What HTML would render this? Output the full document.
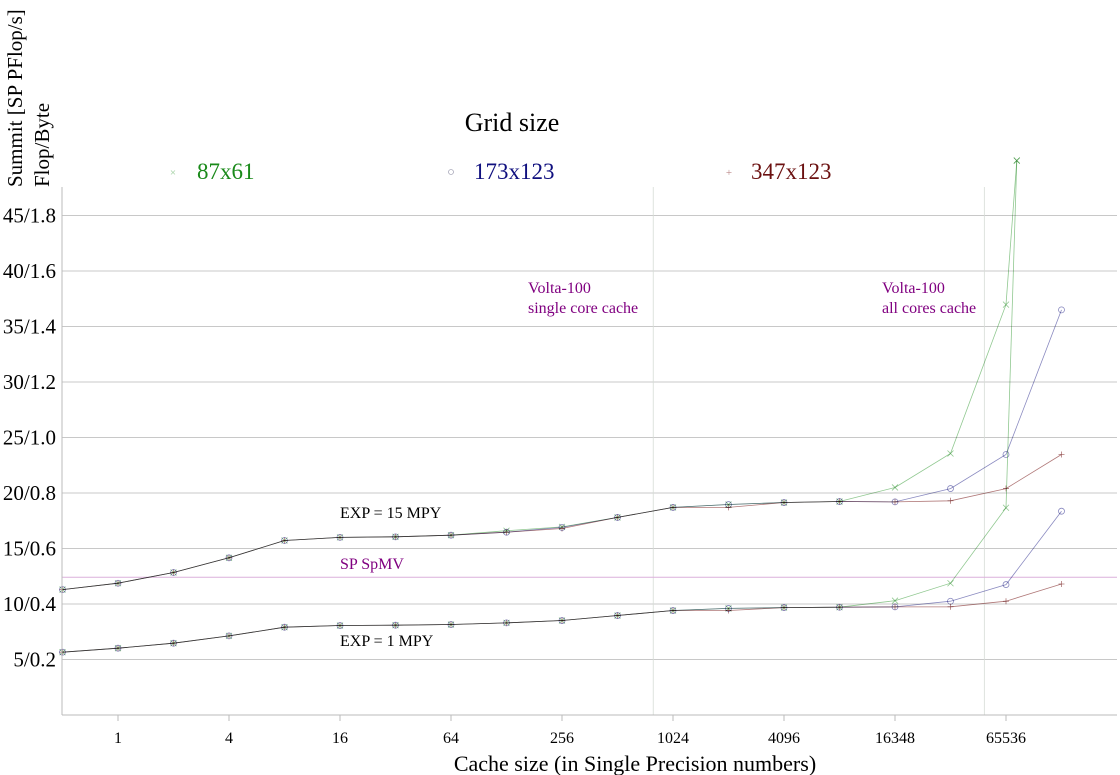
<!DOCTYPE html>
<html><head><meta charset="utf-8">
<style>
html,body{margin:0;padding:0;background:#fff;}
svg{display:block;font-family:"Liberation Serif","DejaVu Serif",serif;}
#series polyline, #series path, #series circle{mix-blend-mode:multiply;}
</style></head>
<body>
<svg id="chart" width="1120" height="775" viewBox="0 0 1120 775" xmlns="http://www.w3.org/2000/svg">
  <g id="grid"></g>
  <g id="refs"></g>
  <g id="series"></g>
  <g id="axes"></g>
  <text transform="translate(22,187) rotate(-90)" font-size="21" fill="#000">Summit [SP PFlop/s]</text>
  <text transform="translate(49,187) rotate(-90)" font-size="21" fill="#000">Flop/Byte</text>
  <text x="635" y="771" text-anchor="middle" font-size="22" fill="#000">Cache size (in Single Precision numbers)</text>
  <g>
    <text x="512" y="131" text-anchor="middle" font-size="26" fill="#000">Grid size</text>
    <g>
      <text x="173" y="176" text-anchor="middle" font-size="11" fill="#9c9">×</text>
      <text x="197" y="179" font-size="23" fill="#1a8a1a">87x61</text>
    </g>
    <g>
      <circle cx="451" cy="172" r="2.5" fill="none" stroke="#aab" stroke-width="0.8"/>
      <text x="474" y="179" font-size="23" fill="#10107f">173x123</text>
    </g>
    <g>
      <text x="729" y="176" text-anchor="middle" font-size="11" fill="#b88">+</text>
      <text x="751" y="179" font-size="23" fill="#6b1010">347x123</text>
    </g>
  </g>
</svg>
<script>
const xTickValues = [1, 4, 16, 64, 256, 1024, 4096, 16384, 65536];
const xTickLabels = ["1", "4", "16", "64", "256", "1024", "4096", "16348", "65536"];
const yTickValues = [5, 10, 15, 20, 25, 30, 35, 40, 45];
const yTickLabels = ["5/0.2", "10/0.4", "15/0.6", "20/0.8", "25/1.0", "30/1.2", "35/1.4", "40/1.6", "45/1.8"];
const cacheSizesGreen = [0.5,1,2,4,8,16,32,64,128,256,512,1024,2048,4096,8192,16384,32768,65536,75000];
const cacheSizesLong = [0.5,1,2,4,8,16,32,64,128,256,512,1024,2048,4096,8192,16384,32768,65536,131072];
const exp15_87x61  = [11.3,11.87,12.84,14.16,15.72,16.0,16.05,16.2,16.6,16.95,17.8,18.7,18.96,19.14,19.23,20.5,23.56,36.97,49.95];
const exp15_173x123= [11.3,11.87,12.84,14.16,15.72,16.0,16.05,16.2,16.47,16.9,17.8,18.7,18.96,19.14,19.23,19.2,20.4,23.47,36.5];
const exp15_347x123= [11.3,11.87,12.84,14.16,15.72,16.0,16.05,16.2,16.47,16.8,17.8,18.7,18.7,19.14,19.23,19.2,19.3,20.4,23.47];
const exp1_87x61   = [5.66,6.02,6.47,7.13,7.91,8.06,8.09,8.15,8.3,8.51,8.96,9.41,9.6,9.68,9.71,10.3,11.87,18.67,49.95];
const exp1_173x123 = [5.66,6.02,6.47,7.13,7.91,8.06,8.09,8.15,8.3,8.51,8.96,9.41,9.6,9.68,9.71,9.74,10.25,11.75,18.36];
const exp1_347x123 = [5.66,6.02,6.47,7.13,7.91,8.06,8.09,8.15,8.3,8.51,8.96,9.41,9.41,9.68,9.71,9.74,9.75,10.25,11.8];
const spmvValue = 12.41;
const cacheLineValues = [800, 50000];

const NS = "http://www.w3.org/2000/svg";
const plotL = 62, plotR = 1117, plotT = 187, plotB = 715;
function xScale(v){ return 118 + Math.log2(v) * 55.5; }
function yScale(v){ return plotB - v * 11.1; }
function mk(tag, attrs, parent){
  const e = document.createElementNS(NS, tag);
  for (const k in attrs) e.setAttribute(k, attrs[k]);
  parent.appendChild(e); return e;
}
const grid = document.getElementById('grid');
const axes = document.getElementById('axes');
const refs = document.getElementById('refs');
const series = document.getElementById('series');

yTickValues.forEach((v, i) => {
  const l = mk('line', {x1: plotL, x2: plotR, y1: yScale(v), y2: yScale(v), stroke: '#c8c8c8', 'stroke-width': 1}, grid);
  
  
  const t = mk('text', {x: 56, y: yScale(v) + 7, 'text-anchor': 'end', 'font-size': 21, fill: '#000'}, axes);
  t.textContent = yTickLabels[i];
  
  
});
xTickValues.forEach((v, i) => {
  const tk = mk('line', {x1: xScale(v), x2: xScale(v), y1: plotB, y2: plotB + 6, stroke: '#bbb', 'stroke-width': 1}, axes);
  
  
  const t = mk('text', {x: xScale(v), y: plotB + 28, 'text-anchor': 'middle', 'font-size': 16, fill: '#000'}, axes);
  t.textContent = xTickLabels[i];
  
  
});
const ax1 = mk('line', {x1: plotL, x2: plotL, y1: plotT, y2: plotB, stroke: '#bbb', 'stroke-width': 1}, axes);


const ax2 = mk('line', {x1: plotL, x2: plotR, y1: plotB, y2: plotB, stroke: '#bbb', 'stroke-width': 1}, axes);



cacheLineValues.forEach((v) => {
  const l = mk('line', {x1: xScale(v), x2: xScale(v), y1: plotT, y2: plotB, stroke: '#d6dcd6', 'stroke-width': 0.8}, refs);
  
  
});
const sp = mk('line', {x1: plotL, x2: plotR, y1: yScale(spmvValue), y2: yScale(spmvValue), stroke: '#dcb0dc', 'stroke-width': 0.9}, refs);



function label(txt, x, y, color, size, name){
  const t = mk('text', {x: x, y: y, 'font-size': size, fill: color}, refs);
  t.textContent = txt;
  
  
}
label('SP SpMV', 340, 569, '#800080', 16, 'spmv-label');
label('Volta-100', 528, 293, '#800080', 16, 'single-core-label');
label('single core cache', 528, 313, '#800080', 16, 'single-core-label-2');
label('Volta-100', 882, 293, '#800080', 16, 'all-cores-label');
label('all cores cache', 882, 313, '#800080', 16, 'all-cores-label-2');
label('EXP = 15 MPY', 340, 518, '#000', 16, 'exp15-label');
label('EXP = 1 MPY', 340, 646, '#000', 16, 'exp1-label');

function drawSeries(xs, ys, color, marker, name){
  const g = mk('g', {}, series);
  
  
  const pts = xs.map((x, i) => xScale(x).toFixed(1) + ',' + yScale(ys[i]).toFixed(1)).join(' ');
  const p = mk('polyline', {points: pts, fill: 'none', stroke: color, 'stroke-width': 0.8}, g);
  
  
  xs.forEach((x, i) => {
    const cx = xScale(x), cy = yScale(ys[i]), s = 3;
    let m;
    if (marker === 'o') m = mk('circle', {cx: cx, cy: cy, r: 3, fill: 'none', stroke: color, 'stroke-width': 0.8}, g);
    else if (marker === 'x') m = mk('path', {d: `M${cx-s},${cy-s}L${cx+s},${cy+s}M${cx-s},${cy+s}L${cx+s},${cy-s}`, stroke: color, 'stroke-width': 0.8}, g);
    else m = mk('path', {d: `M${cx-s},${cy}L${cx+s},${cy}M${cx},${cy-s}L${cx},${cy+s}`, stroke: color, 'stroke-width': 0.8}, g);
    
    
  });
}
drawSeries(cacheSizesLong, exp15_347x123, '#b07878', '+', 'exp15-347x123');
drawSeries(cacheSizesLong, exp15_173x123, '#8a8ac0', 'o', 'exp15-173x123');
drawSeries(cacheSizesGreen, exp15_87x61, '#90c890', 'x', 'exp15-87x61');
drawSeries(cacheSizesLong, exp1_347x123, '#b07878', '+', 'exp1-347x123');
drawSeries(cacheSizesLong, exp1_173x123, '#8a8ac0', 'o', 'exp1-173x123');
drawSeries(cacheSizesGreen, exp1_87x61, '#90c890', 'x', 'exp1-87x61');
</script>
</body></html>
